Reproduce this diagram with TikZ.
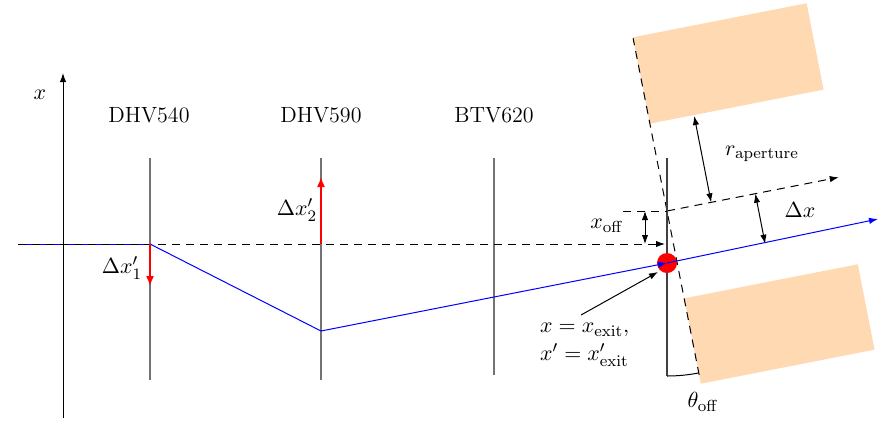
\documentclass[tikz,border=0pt]{standalone}
\usetikzlibrary{arrows.meta,calc}
\begin{document}
\begin{tikzpicture}[x=0.5pt,y=-0.5pt, >={Latex[length=4.5pt,width=3.2pt]},
  font=\fontsize{11}{13}\selectfont,
  det/.style={black!55, line width=0.6pt},
  kick/.style={red, line width=0.8pt, -{Latex[length=5pt,width=4pt]}},
  beam/.style={blue, line width=0.5pt},
  refl/.style={dashed, line width=0.5pt, dash pattern=on 4pt off 3pt},
  dim/.style={<->, line width=0.5pt},
  jaw/.style={fill=orange!30, draw=none}]
\useasboundingbox (0,0) rectangle (878,420);

% coordinates
\coordinate (P) at (667,211);
\coordinate (axb) at (63,418);
\coordinate (axt) at (63,73);
\coordinate (d1t) at (150,158); \coordinate (d1b) at (150,380);
\coordinate (d2t) at (321,158); \coordinate (d2b) at (321,380);
\coordinate (d3t) at (494,158); \coordinate (d3b) at (494,375);
\coordinate (d4t) at (667,158); \coordinate (d4b) at (667,376);
\coordinate (b0) at (18,244);
\coordinate (b1) at (150,244);
\coordinate (b2) at (321,331);
\coordinate (bE) at (667,263);
\coordinate (bF) at (878,219);
\coordinate (k1) at (150,286);
\coordinate (k2o) at (321,244);
\coordinate (k2) at (321,177);
\coordinate (refE) at (665,244);
\coordinate (offL) at (623,211);
\coordinate (offT) at (645,211);
\coordinate (offB) at (645,244);
\coordinate (exA) at (581,315);
\coordinate (exB) at (658,272);

% axis
\draw[->, line width=0.5pt] (axb) -- (axt);
\node (xlab) at (40,95) {$x$};

% jaws and rotated frame
\begin{scope}[shift={(P)}, x={(0.49065pt,0.09625pt)}, y={(-0.09625pt,0.49065pt)}]
  \fill[jaw] (0,89) -- (177,89) -- (177,177) -- (0,177) -- cycle;
  \fill[jaw] (0,-89) -- (177,-89) -- (177,-176) -- (0,-176) -- cycle;
  \coordinate (tb) at (0,-167);
  \coordinate (tt) at (0,176);
  \coordinate (ue) at (175,0);
  \coordinate (r0) at (45,0);
  \coordinate (r1) at (45,88);
  \coordinate (dx0) at (90,0);
  \coordinate (dx1) at (90,-51);
\end{scope}
\draw[refl] (tb) -- (tt);
\draw[refl,->] (P) -- (ue);
\draw[dim] (r0) -- (r1);
\draw[dim] (dx0) -- (dx1);

% detectors
\draw[det] (d1t) -- (d1b);
\draw[det] (d2t) -- (d2b);
\draw[det] (d3t) -- (d3b);
\draw[black!75, line width=0.6pt] (d4t) -- (d4b);
\node (n1) at (149,115) {DHV540};
\node (n2) at (321,115) {DHV590};
\node (n3) at (494,115) {BTV620};

% beam
\draw[beam] (b0) -- (b1);
\draw[refl,->] (b0) -- (refE);
\fill[red] (bE) circle[radius=10];
\draw[beam] (b1) -- (b2);
\draw[beam,->] (b2) -- (bE);
\draw[beam,->] (bE) -- (bF);

% kicks
\draw[kick] (b1) -- (k1);
\draw[kick] (k2o) -- (k2);
\node (lk1) at (122,268) {$\Delta x'_1$};
\node (lk2) at (297,210) {$\Delta x'_2$};

% offset
\draw[refl] (offL) -- (P);
\draw[dim] (offT) -- (offB);
\node (loff) at (607,226) {$x_{\mathrm{off}}$};

\node (lr) at (762,154) {$r_{\mathrm{aperture}}$};
\node (ldx) at (800,210) {$\Delta x$};

% exit
\draw[->, line width=0.5pt] (exA) -- (exB);
\node[align=left, anchor=west] (lex) at (533,345) {$x = x_{\mathrm{exit}},$\\[1pt] $x' = x'_{\mathrm{exit}}$};

% angle
\draw[line width=0.5pt] (d4b) arc[start angle=90, end angle=79, radius=165];
\node (lth) at (703,402) {$\theta_{\mathrm{off}}$};
\end{tikzpicture}
\end{document}
